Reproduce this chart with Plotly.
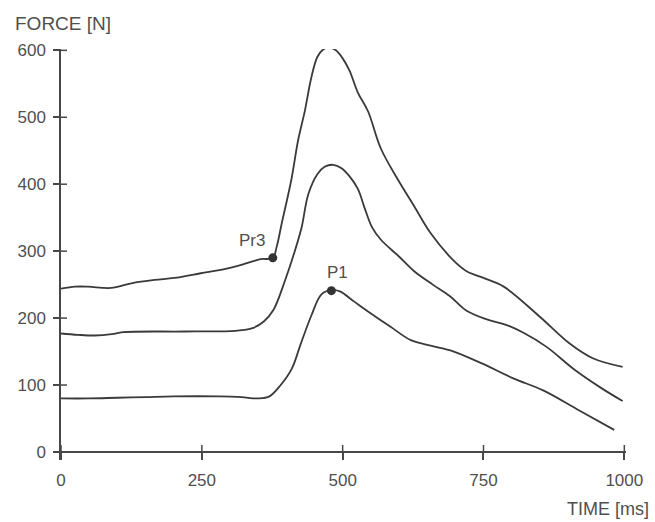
import plotly.graph_objects as go

# ---- data ----
t_top = [0, 25, 48, 89, 125, 166, 201, 248, 294, 330, 354, 376, 383, 392, 409, 421, 433, 444, 455,
         465, 476, 488, 500, 512, 527, 545, 568, 598, 627, 656, 698, 720, 750, 786, 850, 903, 944, 997]
f_top = [244, 247, 247, 245, 252, 257, 260, 267, 274, 282, 288, 290, 307, 342, 407, 466, 510, 558, 590,
         601, 604, 600, 588, 570, 537, 509, 453, 407, 367, 327, 285, 270, 260, 247, 202, 162, 140, 127]

t_mid = [0, 30, 60, 90, 110, 220, 310, 340, 360, 377, 398, 415, 427, 439, 455, 468, 483, 498, 512,
         527, 540, 552, 568, 600, 627, 660, 690, 720, 756, 790, 821, 862, 910, 960, 997]
f_mid = [177, 175, 174, 176, 179, 180, 181, 185, 195, 212, 257, 300, 335, 385, 415, 426, 429, 424, 412,
         393, 362, 336, 317, 292, 270, 250, 233, 211, 198, 190, 178, 157, 124, 95, 76]

t_low = [0, 50, 100, 150, 200, 280, 320, 350, 370, 390, 410, 425, 445, 462, 480, 495, 520, 545, 585,
         621, 650, 690, 745, 803, 856, 920, 982]
f_low = [80, 80, 81, 82, 83, 83, 82, 80, 83, 100, 125, 160, 205, 235, 242, 240, 225, 210, 187,
         167, 160, 152, 133, 110, 92, 62, 33]

points_t = [376, 480]
points_f = [290, 241]
points_label = ["Pr3", "P1"]

x_ticks = [0, 250, 500, 750, 1000]
y_ticks = [0, 100, 200, 300, 400, 500, 600]

# ---- style ----
LINE = "#3a3a3a"
AXIS = "#474747"
TEXT = "#4f4f4f"
FONT = "Liberation Sans, Arial, sans-serif"
FS = 17
TL = 7

fig = go.Figure()
for tx, fy in [(t_top, f_top), (t_mid, f_mid), (t_low, f_low)]:
    fig.add_trace(go.Scatter(x=tx, y=fy, mode="lines",
                             line=dict(color=LINE, width=1.8, shape="spline", smoothing=1.0),
                             hoverinfo="skip", showlegend=False))

fig.add_trace(go.Scatter(x=points_t, y=points_f, mode="markers",
                         marker=dict(color="#333333", size=9),
                         showlegend=False, hoverinfo="skip"))

label_shift = {"Pr3": (-21, 17), "P1": (6, 18)}
for tx, fy, lab in zip(points_t, points_f, points_label):
    dx, dy = label_shift[lab]
    fig.add_annotation(x=tx, y=fy, text=lab, showarrow=False, xshift=dx, yshift=dy,
                       font=dict(family=FONT, size=FS, color=TEXT))

# inner halves of the crossing tick marks
for v in y_ticks:
    fig.add_shape(type="line", xref="x", yref="y", xsizemode="pixel", xanchor=0,
                  x0=0, x1=TL - 1, y0=v, y1=v, line=dict(color=AXIS, width=1.5))
for v in x_ticks:
    fig.add_shape(type="line", xref="x", yref="y", ysizemode="pixel", yanchor=0,
                  y0=0, y1=TL, x0=v, x1=v, line=dict(color=AXIS, width=1.5))

y_lo, y_hi = -12, 602
fig.update_layout(
    width=655, height=522,
    margin=dict(l=61, r=25, t=49, b=62),
    paper_bgcolor="white", plot_bgcolor="white",
    font=dict(family=FONT, size=FS, color=TEXT),
    xaxis=dict(range=[0, 1003], tickvals=x_ticks, ticktext=[str(v) for v in x_ticks],
               showgrid=False, zeroline=False, showline=True, linecolor=AXIS, linewidth=1.5,
               ticks="outside", ticklen=TL, tickwidth=1.5, tickcolor=AXIS,
               anchor="free", position=(0 - y_lo) / (y_hi - y_lo),
               ticklabelstandoff=6,
               tickfont=dict(family=FONT, size=FS, color=TEXT)),
    yaxis=dict(range=[y_lo, y_hi], tickvals=y_ticks, ticktext=[str(v) for v in y_ticks],
               showgrid=False, zeroline=False, showline=True, linecolor=AXIS, linewidth=1.5,
               ticks="outside", ticklen=TL - 1, tickwidth=1.5, tickcolor=AXIS,
               ticklabelstandoff=4,
               tickfont=dict(family=FONT, size=FS, color=TEXT)),
)

fig.add_annotation(xref="paper", yref="paper", x=-48 / 569, y=1 + 25 / 411,
                   xanchor="left", yanchor="middle", text="FORCE [N]", showarrow=False,
                   font=dict(family=FONT, size=19, color=TEXT))
fig.add_annotation(xref="paper", yref="paper", x=1 + 25 / 569, y=-(509 - 460) / 411,
                   xanchor="right", yanchor="middle", text="TIME [ms]", showarrow=False,
                   font=dict(family=FONT, size=18, color=TEXT))

fig.write_html("out.html")
